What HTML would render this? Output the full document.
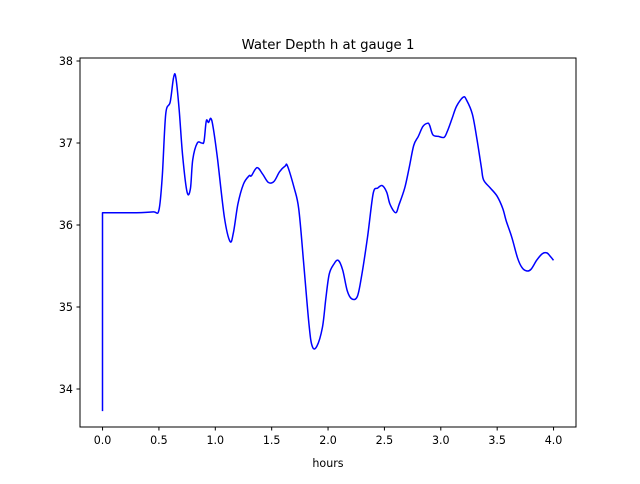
<!DOCTYPE html>
<html><head><meta charset="utf-8"><style>
body{margin:0;background:#fff;font-family:"DejaVu Sans","Liberation Sans",sans-serif;}
svg text{font-family:"DejaVu Sans","Liberation Sans",sans-serif;}
</style></head><body>
<svg id="chart" width="640" height="480" xmlns="http://www.w3.org/2000/svg">
<rect width="640" height="480" fill="#fff"/>
<text x="328" y="49" font-size="13.3" text-anchor="middle">Water Depth h at gauge 1</text>
<g id="ticks"></g>
<path id="line" fill="none" stroke="#0000ff" stroke-width="1.5" stroke-linejoin="round"/>
<rect x="80" y="58" width="496" height="369" fill="none" stroke="#000" stroke-width="1"/>
<text x="328" y="467" font-size="11.1" text-anchor="middle">hours</text>
</svg>
<script>
const hours=[0,0,0.3,0.45,0.5,0.53,0.56,0.6,0.63,0.65,0.68,0.71,0.75,0.78,0.8,0.84,0.88,0.9,0.92,0.94,0.96,0.98,1.02,1.08,1.13,1.16,1.2,1.25,1.3,1.32,1.37,1.42,1.47,1.52,1.57,1.62,1.64,1.7,1.74,1.78,1.83,1.86,1.9,1.95,1.98,2.01,2.05,2.09,2.13,2.17,2.21,2.26,2.3,2.35,2.4,2.44,2.48,2.52,2.55,2.6,2.63,2.68,2.72,2.76,2.8,2.84,2.88,2.9,2.93,2.98,3.03,3.06,3.1,3.14,3.2,3.23,3.28,3.32,3.36,3.38,3.44,3.5,3.55,3.58,3.63,3.68,3.72,3.76,3.8,3.85,3.9,3.94,3.97,4.0];
const depth=[33.73,36.15,36.15,36.16,36.18,36.6,37.35,37.5,37.8,37.8,37.4,36.85,36.4,36.45,36.8,37.0,37.0,37.02,37.27,37.25,37.3,37.2,36.8,36.1,35.8,35.9,36.25,36.5,36.6,36.6,36.7,36.62,36.52,36.53,36.65,36.72,36.72,36.45,36.2,35.6,34.8,34.52,34.52,34.75,35.1,35.4,35.52,35.57,35.45,35.2,35.1,35.13,35.4,35.85,36.38,36.45,36.48,36.4,36.25,36.15,36.25,36.45,36.7,36.97,37.08,37.2,37.24,37.22,37.1,37.08,37.07,37.15,37.3,37.45,37.56,37.52,37.35,37.05,36.7,36.55,36.45,36.35,36.2,36.05,35.85,35.6,35.48,35.44,35.46,35.57,35.65,35.66,35.62,35.57];
const xTicks=[0,0.5,1,1.5,2,2.5,3,3.5,4];
const xTickLabels=["0.0","0.5","1.0","1.5","2.0","2.5","3.0","3.5","4.0"];
const yTicks=[34,35,36,37,38];
const yTickLabels=["34","35","36","37","38"];
const X=v=>102.55+v*112.75;
const Y=v=>61+(38-v)*82;
const ns="http://www.w3.org/2000/svg";
const g=document.getElementById('ticks');
function mk(t,a){const e=document.createElementNS(ns,t);for(const k in a)e.setAttribute(k,a[k]);g.appendChild(e);return e;}
xTicks.forEach((v,i)=>{
 const l=mk('line',{x1:X(v),x2:X(v),y1:427,y2:430.5,stroke:'#000'});
 
 
 const t=mk('text',{x:X(v),y:444,'font-size':11.1,'text-anchor':'middle'});t.textContent=xTickLabels[i];
 
 
});
yTicks.forEach((v,i)=>{
 const l=mk('line',{x1:76.5,x2:80,y1:Y(v),y2:Y(v),stroke:'#000'});
 
 
 const t=mk('text',{x:73,y:Y(v)+4,'font-size':11.1,'text-anchor':'end'});t.textContent=yTickLabels[i];
 
 
});
// smooth path (Catmull-Rom) after the initial vertical jump
const P=hours.map((h,i)=>[X(h),Y(depth[i])]);
let d='M'+P[0][0].toFixed(1)+' '+P[0][1].toFixed(1)+' L'+P[1][0].toFixed(1)+' '+P[1][1].toFixed(1);
for(let i=1;i<P.length-1;i++){
 const p0=P[Math.max(1,i-1)],p1=P[i],p2=P[i+1],p3=P[Math.min(P.length-1,i+2)];
 const c1=[p1[0]+(p2[0]-p0[0])/6,p1[1]+(p2[1]-p0[1])/6];
 const c2=[p2[0]-(p3[0]-p1[0])/6,p2[1]-(p3[1]-p1[1])/6];
 d+=' C'+c1[0].toFixed(1)+' '+c1[1].toFixed(1)+' '+c2[0].toFixed(1)+' '+c2[1].toFixed(1)+' '+p2[0].toFixed(1)+' '+p2[1].toFixed(1);
}
document.getElementById('line').setAttribute('d',d);
</script>
</body></html>
